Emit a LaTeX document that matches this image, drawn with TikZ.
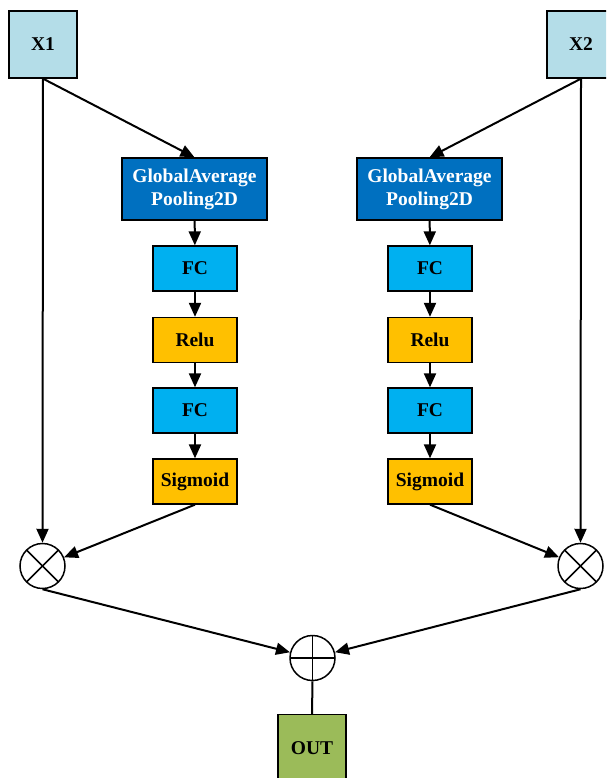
\documentclass[tikz,border=0pt]{standalone}
\usepackage{fontspec}
\setmainfont{Liberation Serif}
\usetikzlibrary{arrows.meta}
\begin{document}
\begin{tikzpicture}[x=1pt,y=-1pt,
  every node/.style={font=\bfseries\fontsize{19.5}{23}\selectfont},
  box/.style={draw=black,line width=1.3pt,inner sep=0pt,align=center},
  inbox/.style={box,fill=inblue,minimum width=68pt,minimum height=67pt},
  gapbox/.style={box,fill=gapblue,text=white,minimum width=145pt,minimum height=62pt},
  fcbox/.style={box,fill=fcblue,minimum width=84pt,minimum height=45pt},
  actbox/.style={box,fill=actorange,minimum width=84pt,minimum height=45pt},
  outbox/.style={box,fill=outgreen,minimum width=68pt,minimum height=67pt},
  opnode/.style={circle,draw=black,line width=1.5pt,minimum size=45pt,inner sep=0pt},
  times/.style={opnode,path picture={
      \draw[line width=1.5pt] (path picture bounding box.north west) -- (path picture bounding box.south east);
      \draw[line width=1.5pt] (path picture bounding box.north east) -- (path picture bounding box.south west);}},
  plus/.style={opnode,path picture={
      \draw[line width=1.5pt] (path picture bounding box.north) -- (path picture bounding box.south);
      \draw[line width=1.5pt] (path picture bounding box.west) -- (path picture bounding box.east);}},
  arr/.style={line width=2pt,-{Triangle[length=14pt,width=12pt]}},
  ln/.style={line width=2pt}
]
\definecolor{inblue}{HTML}{B4DDE8}
\definecolor{gapblue}{HTML}{0070C0}
\definecolor{fcblue}{HTML}{00B0F0}
\definecolor{actorange}{HTML}{FFC000}
\definecolor{outgreen}{HTML}{9BBB59}

\useasboundingbox (0,0) rectangle (606,778);
\clip (0,0) rectangle (606,778);

% inputs
\node[inbox] (x1) at (43,44.5) {X1};
\node[inbox] (x2) at (581,44.5) {X2};

% left attention branch
\node[gapbox] (g1) at (194.5,189) {GlobalAverage\\Pooling2D};
\node[fcbox]  (f1a) at (195,268.5) {FC};
\node[actbox] (r1)  at (195,340) {Relu};
\node[fcbox]  (f1b) at (195,410.5) {FC};
\node[actbox] (s1)  at (195,481.5) {Sigmoid};

% right attention branch
\node[gapbox] (g2) at (429.5,189) {GlobalAverage\\Pooling2D};
\node[fcbox]  (f2a) at (430,268.5) {FC};
\node[actbox] (r2)  at (430,340) {Relu};
\node[fcbox]  (f2b) at (430,410.5) {FC};
\node[actbox] (s2)  at (430,481.5) {Sigmoid};

% fusion operators
\node[times] (m1) at (42.5,566) {};
\node[times] (m2) at (580.5,566) {};
\node[plus]  (p)  at (312.5,658) {};

% output
\node[outbox] (out) at (312,748) {OUT};

% connectors
\draw[arr] (x1.south) -- (g1.north);
\draw[arr] (x1.south) -- (m1.north);
\draw[arr] (g1) -- (f1a);
\draw[arr] (f1a) -- (r1);
\draw[arr] (r1) -- (f1b);
\draw[arr] (f1b) -- (s1);
\draw[arr] (s1.south) -- (m1);

\draw[arr] (x2.south) -- (g2.north);
\draw[arr] (x2.south) -- (m2.north);
\draw[arr] (g2) -- (f2a);
\draw[arr] (f2a) -- (r2);
\draw[arr] (r2) -- (f2b);
\draw[arr] (f2b) -- (s2);
\draw[arr] (s2.south) -- (m2);

\draw[arr] (m1.south) -- (p);
\draw[arr] (m2.south) -- (p);
\draw[ln] (p.south) -- (out.north);
\end{tikzpicture}
\end{document}
